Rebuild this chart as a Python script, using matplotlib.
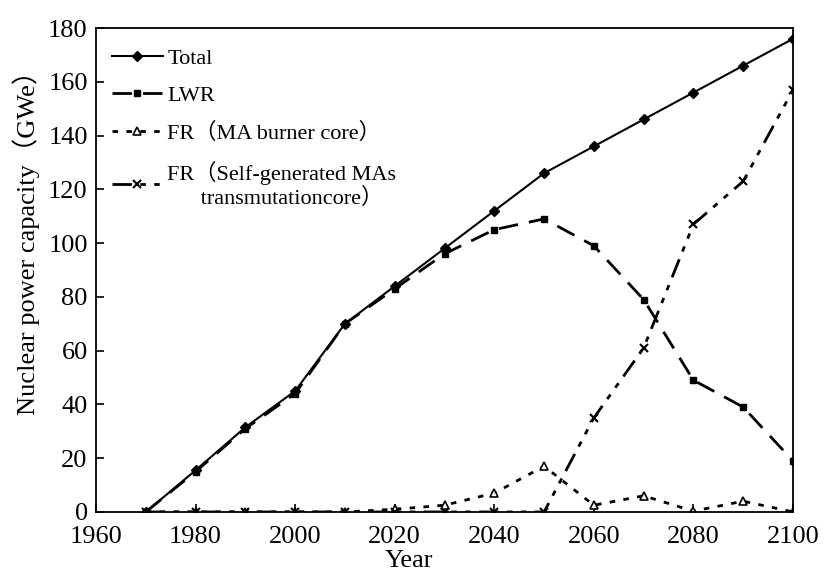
import matplotlib
matplotlib.use("Agg")
from matplotlib import pyplot as plt

# Données (GWe)
years = [1970, 1980, 1990, 2000, 2010, 2020, 2030, 2040, 2050, 2060, 2070, 2080, 2090, 2100]
total = [0, 15.5, 31.5, 45, 70, 84, 98, 112, 126, 136, 146, 156, 166, 176]
lwr = [0, 15, 31, 44, 70, 83, 96, 105, 109, 99, 79, 49, 39, 19]
fr_burner = [0, 0, 0, 0, 0, 1, 2.5, 7, 17, 2.5, 6, 0.3, 4, 0]
fr_self = [0, 0, 0, 0, 0, 0, 0, 0, 0, 35, 61, 107, 123, 157]

labels = ["Total", "LWR", "FR（MA burner core）",
          "FR（Self-generated MAs\n      transmutationcore）"]

plt.rcParams['font.family'] = ['Liberation Serif', 'Noto Sans CJK JP']

fig = plt.figure(figsize=(8.25, 5.72), dpi=100)
ax = fig.add_axes([0.1164, 0.105, 0.8448, 0.846])

ax.plot(years, total, color='black', lw=1.5, marker='D', markersize=5, label=labels[0])
ax.plot(years, lwr, color='black', lw=2, linestyle=(0, (7, 4)), marker='s', markersize=5,
        label=labels[1])
ax.plot(years, fr_burner, color='black', lw=2, linestyle=(0, (2, 3)), marker='^',
        markersize=6, markerfacecolor='white', markeredgewidth=1.2, label=labels[2])
ax.plot(years, fr_self, color='black', lw=2, linestyle=(0, (7, 3, 2, 3, 2, 3)), marker='x',
        markersize=6, markeredgewidth=1.5, label=labels[3])

ax.set_xlim(1960, 2100)
ax.set_ylim(0, 180)
ax.set_xticks(range(1960, 2101, 20))
ax.set_yticks(range(0, 181, 20))
ax.tick_params(direction='in', labelsize=19, length=6, width=1.2)
ax.tick_params(axis='x', pad=10)
ax.tick_params(axis='y', pad=6)
for s in ax.spines.values():
    s.set_linewidth(1.3)

ax.set_xlabel("Year", fontsize=19)
ax.xaxis.set_label_coords(0.449, -0.078)
ax.set_ylabel("Nuclear power capacity（GWe）", fontsize=19)
ax.yaxis.set_label_coords(-0.08, 0.57)

ax.legend(loc='upper left', frameon=False, fontsize=16, handlelength=2.3,
          handletextpad=0.2, labelspacing=0.75, borderaxespad=0.3,
          bbox_to_anchor=(0.0, 0.99))

fig.savefig("out.png", dpi=100)
